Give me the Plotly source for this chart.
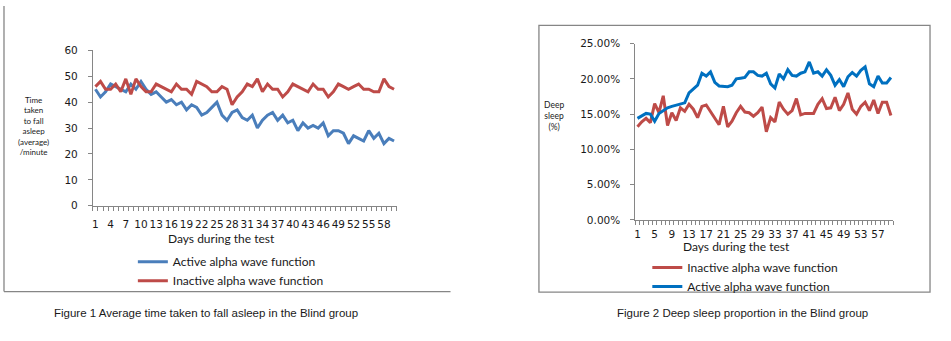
import plotly.graph_objects as go

W, H = 951, 341

days = list(range(1, 61))

# Figure 1: time taken to fall asleep (minutes)
active_sleep_time = [45, 42, 44, 47, 46, 45, 44, 47, 45, 48,
                     45, 43, 44, 42, 40, 41, 39, 40, 37, 39,
                     38, 35, 36, 38, 40, 35, 33, 36, 37, 34,
                     33, 35, 30, 33, 35, 36, 33, 35, 32, 33,
                     29, 32, 30, 31, 30, 32, 27, 29, 29, 28,
                     24, 27, 26, 25, 29, 26, 28, 24, 26, 25]
inactive_sleep_time = [46, 48, 45, 45, 47, 44, 49, 43, 49, 46,
                       44, 44, 47, 46, 45, 44, 47, 45, 45, 43,
                       48, 47, 46, 44, 44, 46, 45, 39, 42, 44,
                       47, 46, 49, 44, 47, 45, 45, 42, 44, 47,
                       46, 45, 44, 47, 45, 45, 42, 44, 47, 46,
                       45, 46, 47, 45, 45, 44, 44, 49, 46, 45]

# Figure 2: deep sleep proportion (%)
inactive_deep = [13.2, 13.9, 14.4, 13.8, 16.5, 15.2, 17.6, 13.4, 15.2, 14.1,
                 15.9, 15.4, 16.4, 15.7, 14.5, 16.1, 16.3, 15.3, 14.3, 13.5,
                 16.1, 13.2, 14.0, 15.2, 16.1, 15.3, 15.2, 14.7, 15.2, 16.0,
                 12.5, 14.5, 13.9, 16.7, 15.7, 15.0, 15.5, 17.2, 14.9, 15.1,
                 15.1, 15.1, 16.4, 17.2, 15.8, 15.9, 17.4, 15.5, 16.4, 18.0,
                 15.7, 15.0, 16.1, 16.7, 15.5, 17.0, 15.1, 16.7, 16.7, 14.8]
active_deep = [14.4, 14.8, 15.1, 15.0, 14.0, 15.1, 15.5, 15.9, 16.1, 16.3,
               16.4, 16.6, 18.0, 18.6, 19.1, 20.8, 20.4, 21.0, 19.5, 19.0,
               18.9, 18.9, 19.1, 20.0, 20.1, 20.2, 21.0, 21.0, 20.5, 20.4,
               20.8, 19.3, 18.7, 20.7, 20.0, 21.3, 20.5, 20.4, 20.8, 21.0,
               22.4, 20.8, 21.0, 20.4, 21.3, 20.5, 19.1, 19.9, 18.9, 20.3,
               20.9, 20.4, 21.2, 21.7, 19.3, 18.9, 20.4, 19.4, 19.4, 20.2]

left_xticks = list(range(1, 61, 3))
right_xticks = list(range(1, 61, 4))
left_yticks = [0, 10, 20, 30, 40, 50, 60]
right_yticks = [0, 5, 10, 15, 20, 25]

BLUE1 = "#4A7EBB"
RED = "#BE4B48"
BLUE2 = "#0070C0"
AXIS = "#868686"
TXT = "#1a1a1a"
FONT = "Lato, 'Open Sans', sans-serif"
TICKFONT = "'DejaVu Sans', sans-serif"


def px(x):
    return x / W


def py(y):
    return 1 - y / H


fig = go.Figure()

fig.add_trace(go.Scatter(x=days, y=active_sleep_time, mode="lines", name="Active alpha wave function",
                         line=dict(color=BLUE1, width=3), xaxis="x", yaxis="y", legend="legend"))
fig.add_trace(go.Scatter(x=days, y=inactive_sleep_time, mode="lines", name="Inactive alpha wave function",
                         line=dict(color=RED, width=3), xaxis="x", yaxis="y", legend="legend"))
fig.add_trace(go.Scatter(x=days, y=inactive_deep, mode="lines", name="Inactive alpha wave function",
                         line=dict(color=RED, width=3), xaxis="x2", yaxis="y2", legend="legend2"))
fig.add_trace(go.Scatter(x=days, y=active_deep, mode="lines", name="Active alpha wave function",
                         line=dict(color=BLUE2, width=3), xaxis="x2", yaxis="y2", legend="legend2"))

xcommon = dict(range=[0.5, 60.5], showgrid=False, zeroline=False, showline=True, linecolor=AXIS,
               linewidth=1, ticks="", tickfont=dict(family=TICKFONT, size=10.5, color=TXT), tickmode="array",
               tickangle=0,
               minor=dict(ticks="outside", ticklen=4, tickcolor=AXIS, tick0=0.5, dtick=1, showgrid=False),
               fixedrange=True)
ycommon = dict(showgrid=False, zeroline=False, showline=True, linecolor=AXIS, linewidth=1,
               ticks="outside", ticklen=4, tickcolor=AXIS, tickfont=dict(family=TICKFONT, size=10.5, color=TXT),
               tickmode="array", ticklabelstandoff=8, fixedrange=True)

fig.update_layout(
    width=W, height=H, margin=dict(l=0, r=0, t=0, b=0),
    paper_bgcolor="white", plot_bgcolor="white",
    xaxis=dict(domain=[px(92), px(396)], anchor="y", tickvals=left_xticks, ticklabelstandoff=9,
               ticktext=[str(v) for v in left_xticks], **xcommon),
    yaxis=dict(domain=[py(207), py(46)], anchor="x", range=[0, 60], tickvals=left_yticks,
               ticktext=[str(v) for v in left_yticks], **ycommon),
    xaxis2=dict(domain=[px(635), px(893)], anchor="y2", tickvals=right_xticks, ticklabelstandoff=5,
                ticktext=[str(v) for v in right_xticks], **xcommon),
    yaxis2=dict(domain=[py(221.7), py(39)], anchor="x2", range=[0, 25], tickvals=right_yticks,
                ticktext=[f"{v:.2f}%" for v in right_yticks], **ycommon),
    legend=dict(x=px(132), y=py(250), xanchor="left", yanchor="top", bgcolor="rgba(0,0,0,0)",
                font=dict(family=FONT, size=12, color=TXT), itemwidth=30, tracegroupgap=0),
    legend2=dict(x=px(647), y=py(256), xanchor="left", yanchor="top", bgcolor="rgba(0,0,0,0)",
                 font=dict(family=FONT, size=12, color=TXT), itemwidth=30, tracegroupgap=0),
    showlegend=True,
)

annotations = [
    dict(text="Days during the test", x=px(221), y=py(241), font=dict(family=FONT, size=12, color=TXT)),
    dict(text="Days during the test", x=px(736), y=py(249.5), font=dict(family=FONT, size=12, color=TXT)),
    dict(text="Time<br>taken<br>to fall<br>asleep<br>(average)<br>/minute", x=px(33), y=py(124),
         font=dict(family=FONT, size=8, color=TXT)),
    dict(text="Deep<br>sleep<br>(%)", x=px(554), y=py(114), font=dict(family=FONT, size=8.5, color=TXT)),
    dict(text="Figure 1 Average time taken to fall asleep in the Blind group", x=px(205), y=py(318),
         font=dict(family="'Liberation Sans', Arial, sans-serif", size=11.5, color=TXT)),
    dict(text="Figure 2 Deep sleep proportion in the Blind group", x=px(742), y=py(318),
         font=dict(family="'Liberation Sans', Arial, sans-serif", size=11.5, color=TXT)),
]
for a in annotations:
    a.update(xref="paper", yref="paper", showarrow=False, xanchor="center", yanchor="middle", align="center")
fig.update_layout(annotations=annotations)

shapes = [
    # left chart frame
    dict(type="line", x0=px(3), x1=px(3), y0=py(0), y1=py(296)),
    dict(type="line", x0=px(3), x1=px(450), y0=py(296), y1=py(296)),
    # right chart frame
    dict(type="rect", x0=px(538.5), x1=px(930), y0=py(20), y1=py(296.5)),
]
for s in shapes:
    s.update(xref="paper", yref="paper", line=dict(color=AXIS, width=1.3))
fig.update_layout(shapes=shapes)

fig.write_html("out.html")
